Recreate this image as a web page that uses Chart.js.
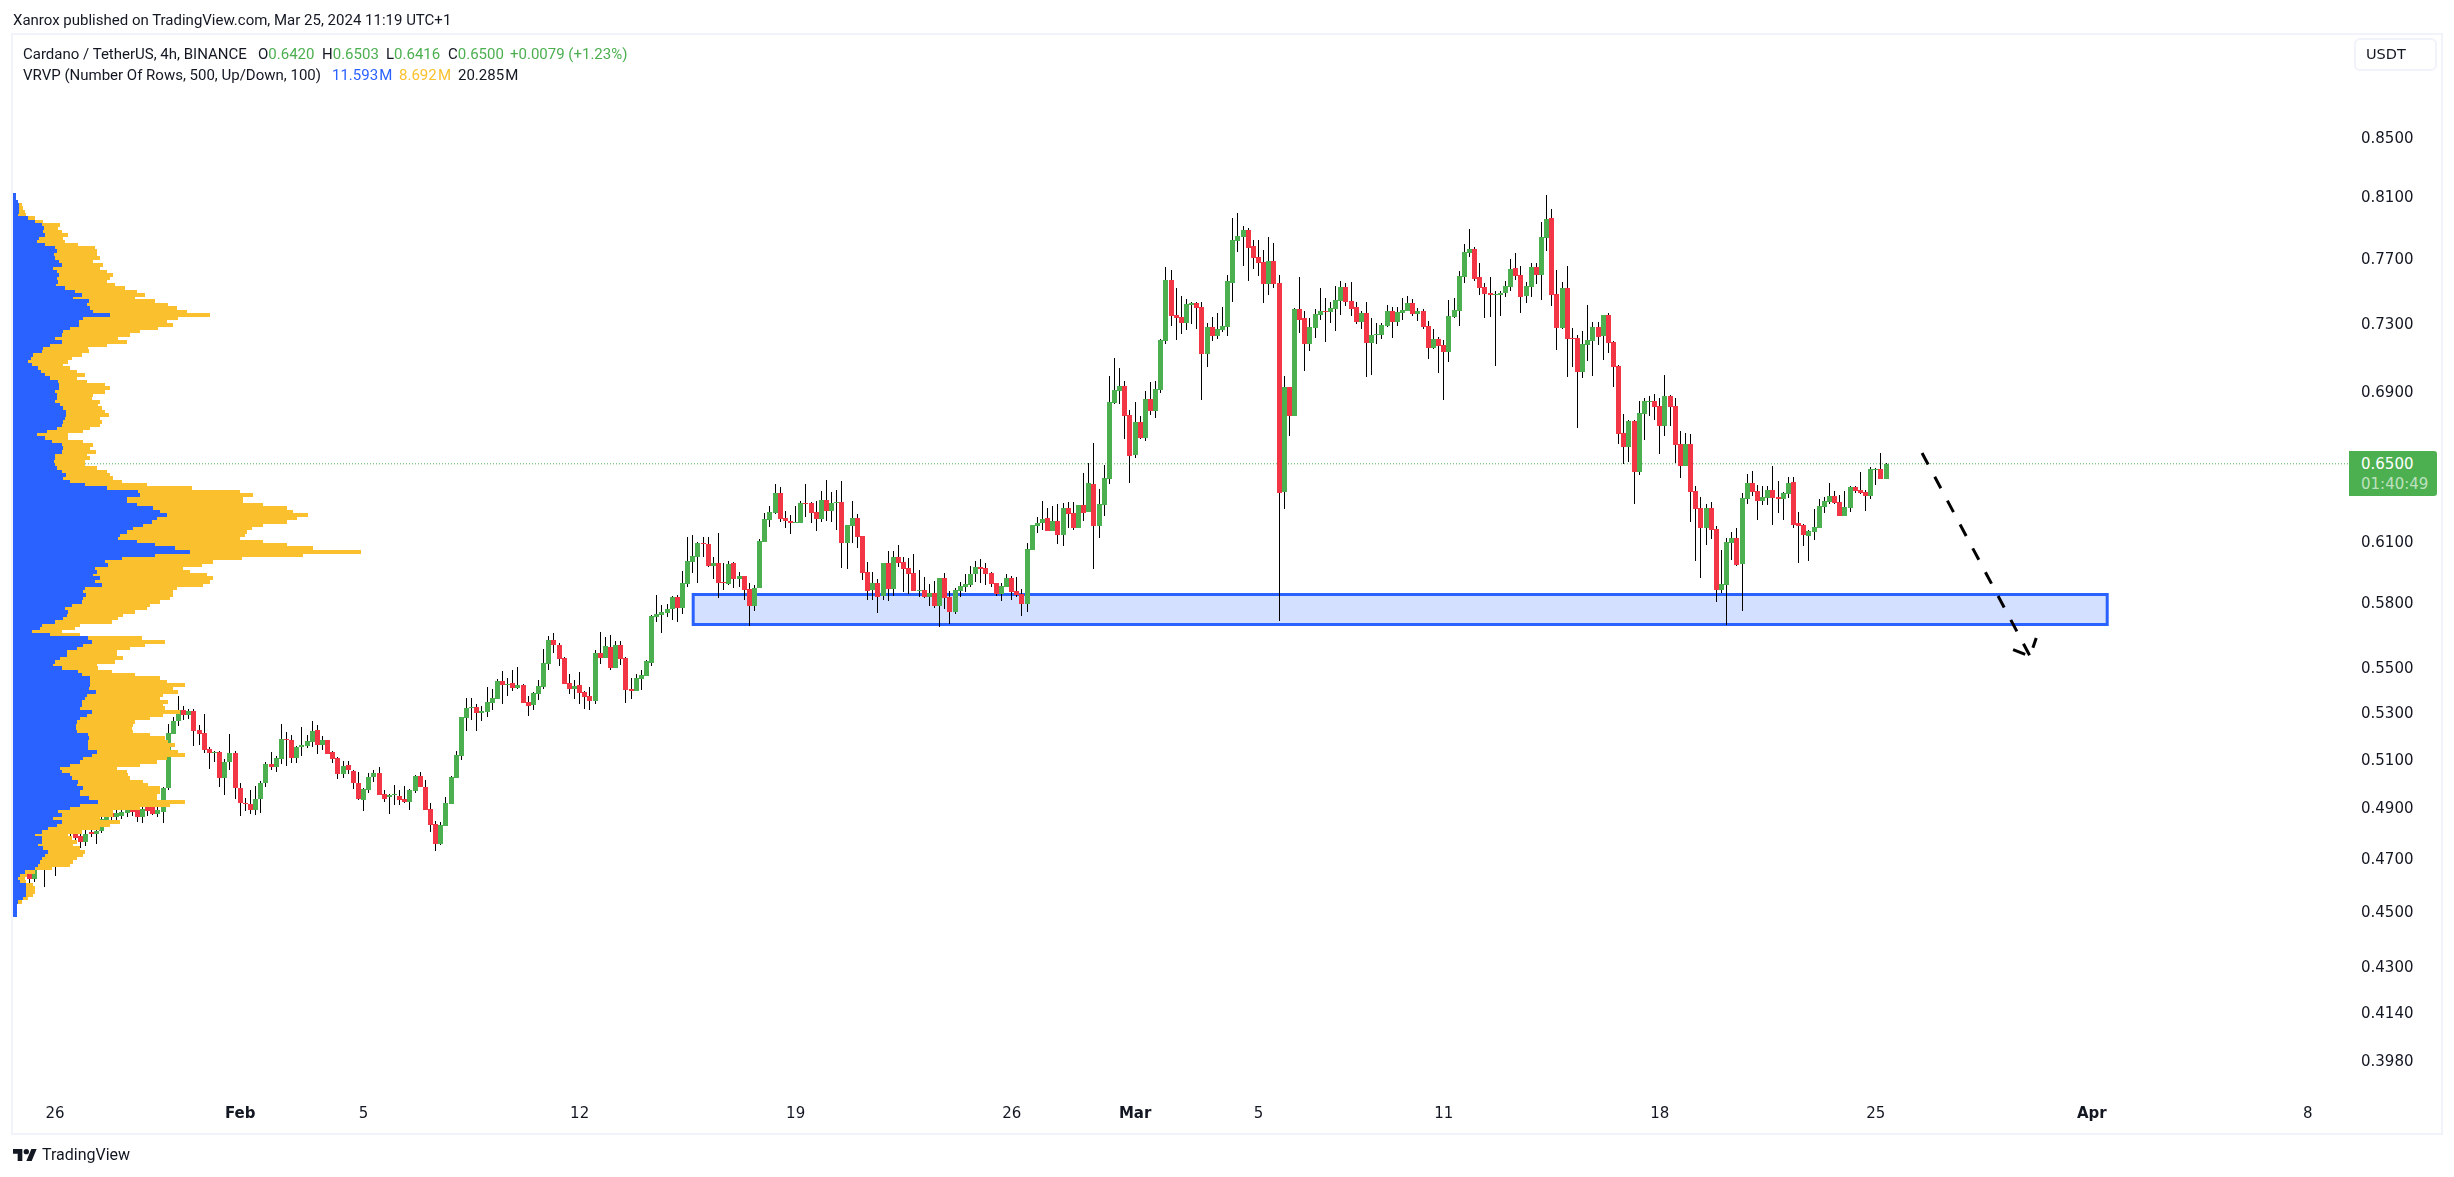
<!DOCTYPE html>
<html><head><meta charset="utf-8"><title>Cardano / TetherUS</title>
<script src="https://cdn.jsdelivr.net/npm/chart.js@4/dist/chart.umd.min.js"></script>
<style>
html,body{margin:0;padding:0;background:#fff;width:2454px;height:1177px;overflow:hidden}
#frame{position:absolute;left:11px;top:33px;width:2428px;height:1098px;border:2px solid #F0F3FA;box-sizing:content-box}
canvas{position:absolute;left:0;top:0}
.t{position:absolute;font-family:Roboto,sans-serif;font-size:15px;line-height:18px;white-space:nowrap;color:#131722}
.m{word-spacing:-2.5px}
.g{color:#4CAF50}.b{color:#2962FF}.o{color:#FBC02D}
#usdt{position:absolute;left:2354px;top:38px;width:79px;height:29px;border:2px solid #F0F3FA;border-radius:6px;font:14.5px "DejaVu Sans",sans-serif;line-height:29px;text-indent:10px;color:#131722}
#tag{position:absolute;left:2349px;top:451px;width:88px;height:45px;background:#4CAF50;border-radius:0 3px 3px 0;font:15px "DejaVu Sans",sans-serif;color:#fff}
#tag div{position:absolute;left:12px}
</style></head><body>
<div id="frame"></div>
<canvas id="c" width="2454" height="1177"></canvas>
<div class="t" style="left:13px;top:11px">Xanrox published on TradingView.com, Mar 25, 2024 11:19 UTC+1</div>
<div class="t" style="left:23px;top:45px">Cardano / TetherUS, 4h, BINANCE</div>
<div class="t" style="left:258px;top:45px">O<span class="g">0.6420</span></div>
<div class="t" style="left:322px;top:45px">H<span class="g">0.6503</span></div>
<div class="t" style="left:386px;top:45px">L<span class="g">0.6416</span></div>
<div class="t" style="left:448px;top:45px">C<span class="g">0.6500</span></div>
<div class="t g" style="left:510px;top:45px">+0.0079 (+1.23%)</div>
<div class="t" style="left:23px;top:66px">VRVP (Number Of Rows, 500, Up/Down, 100)</div>
<div class="t b m" style="left:332px;top:66px">11.593 M</div>
<div class="t o m" style="left:399px;top:66px">8.692 M</div>
<div class="t m" style="left:458px;top:66px">20.285 M</div>
<div id="usdt">USDT</div>
<div id="tag"><div style="top:4px">0.6500</div><div style="top:24px;color:rgba(255,255,255,.65)">01:40:49</div></div>
<svg style="position:absolute;left:13px;top:1148px" width="24" height="14" viewBox="0 4 36 18"><path d="M14 22H7V11H0V4h14v18zM28 22h-8l7.5-18h8L28 22z" fill="#131722"/><circle cx="20" cy="8" r="4" fill="#131722"/></svg>
<div class="t" style="left:42px;top:1146px;font-size:16px;color:#131722">TradingView</div>
<script>
// Candles: 4h bars, oldest first
const firstBarDay = -4/3;            // days from Jan 26 00:00 (Jan 24 16:00)
const barsPerDay = 6;
const opens = [
.4618,.4543,.4626,.4675,.4618,.4702,.4740,.4702,.4740,.4779,.4752,.4795,.4819,.4787,.4763,.4803,.4795,.4807,.4851,.4878,.4863,.4867,.4878,.4898,.4894,.4863,.4906,.4906,.4874,
.4880,.4979,.5206,.5260,.5308,.5288,.5303,.5222,.5208,.5141,.5126,.5129,.5021,.5087,.5125,.4979,.4918,.4915,.4888,.4933,.4998,.5079,.5066,.5101,.5183,.5179,.5104,.5148,.5155,.5172,.5222,.5160,.5179,.5129,.5104,.5037,.5075,.5050,.4999,.4931,.4972,.5022,.5041,.4956,.4941,.4949,.4948,.4935,.4923,.4968,.5029,.4984,.4895,.4835,.4755,.4824,.4915,.5021,.5112,.5273,.5316,.5320,.5295,.5299,.5338,.5356,
.5437,.5420,.5429,.5406,.5420,.5344,.5331,.5379,.5411,.5514,.5624,.5601,.5541,.5429,.5402,.5420,.5388,.5371,.5349,.5564,.5541,.5592,.5496,.5601,.5541,.5402,.5393,.5446,.5460,.5519,.5731,.5740,.5750,.5769,.5826,
.5773,.5888,.5996,.6021,.6090,.6085,.5976,.5991,.5898,.5888,.5991,.5913,.5927,.5864,.5782,.5869,.6095,.6206,.6242,.6346,.6217,.6201,.6191,.6191,.6293,.6293,.6247,.6211,.6309,.6252,.6293,.6298,.6090,.6176,.6217,.6125,.5947,.5860,.5893,.5831,.5991,.5864,.6021,.5996,.5966,.5942,.5855,.5860,.5826,.5845,.5782,.5917,.5826,.5754,.5855,.5874,.5884,.5937,.5971,.5966,.5942,.5893,.5840,.5874,.5917,.5855,.5840,.5792,.6055,.6176,.6191,.6217,.6151,.6201,.6130,.6267,.6242,.6166,.6283,.6247,.6393,.6176,.6283,
.6421,.6832,.6900,.6929,.6766,.6547,.6727,.6640,.6856,.6789,.6906,.7192,.7561,.7347,.7334,.7298,.7407,.7419,.7395,.7112,.7274,.7221,.7257,.7274,.7542,.7808,.7834,.7879,.7776,.7705,.7674,.7536,.7680,.7542,.6351,.6923,.6761,.7384,.7328,.7174,.7268,.7347,.7371,.7365,.7383,.7431,.7517,.7431,.7395,.7304,.7359,.7180,.7227,.7227,.7280,.7371,.7304,.7359,.7371,.7419,.7353,.7371,.7280,.7148,.7203,.7168,.7127,.7334,.7371,.7580,.7730,.7756,.7580,.7517,.7480,.7468,.7468,.7480,.7517,.7636,.7592,.7462,.7517,.7642,.7592,.7827,
.7957,.7474,.7268,.7511,.7209,.7209,.7010,.7168,.7192,.7274,.7221,.7347,.7186,.7045,.6667,.6591,.6733,.6457,.6772,.6839,.6845,.6817,.6705,.6872,.6817,.6607,.6488,.6607,.6356,.6269,.6166,.6269,.6161,.5859,.5883,.6091,.6116,.5986,.6315,.6398,.6356,.6305,.6320,.6361,.6325,.6315,.6340,.6403,.6191,.6182,.6126,.6146,.6166,.6274,.6299,.6330,.6299,.6227,.6269,.6377,.6361,.6351,.6330,.6467,.6472,.6419];
const highs = [
.4656,.4664,.4713,.4694,.4732,.4771,.4791,.4791,.4811,.4811,.4827,.4843,.4835,.4811,.4819,.4827,.4823,.4871,.4882,.4898,.4906,.4906,.4923,.4919,.4915,.4915,.4923,.4923,.4906,
.4982,.5249,.5276,.5371,.5325,.5315,.5315,.5243,.5293,.5151,.5133,.5133,.5100,.5205,.5133,.4999,.4938,.4972,.4988,.5009,.5087,.5129,.5112,.5248,.5212,.5200,.5154,.5237,.5200,.5260,.5243,.5196,.5181,.5131,.5106,.5092,.5092,.5054,.5045,.4980,.5041,.5054,.5066,.4972,.4956,.4992,.4972,.4988,.4976,.5033,.5045,.5013,.4919,.4845,.4840,.4943,.5029,.5133,.5280,.5360,.5360,.5333,.5325,.5410,.5401,.5445,
.5483,.5451,.5487,.5500,.5424,.5371,.5386,.5442,.5581,.5642,.5656,.5610,.5546,.5469,.5442,.5478,.5393,.5411,.5578,.5661,.5638,.5647,.5619,.5619,.5547,.5451,.5469,.5487,.5532,.5738,.5835,.5788,.5793,.5831,.5836,
.5952,.6118,.6130,.6095,.6120,.6120,.6021,.6140,.5991,.6001,.5996,.5947,.5929,.5893,.5884,.6110,.6242,.6277,.6393,.6377,.6252,.6232,.6277,.6303,.6393,.6298,.6303,.6356,.6414,.6351,.6361,.6409,.6183,.6303,.6237,.6127,.5996,.5947,.5913,.5993,.6051,.6051,.6080,.6021,.6016,.6036,.5956,.5922,.5888,.5903,.5919,.5942,.5855,.5869,.5898,.5937,.5976,.6001,.6011,.5991,.5947,.5895,.5893,.5937,.5927,.5922,.5864,.6090,.6183,.6222,.6303,.6267,.6277,.6288,.6293,.6298,.6298,.6285,.6451,.6504,.6612,.6367,.6494,
.6987,.7091,.7033,.6958,.6794,.6839,.6761,.6900,.6953,.6958,.7204,.7642,.7623,.7511,.7462,.7443,.7425,.7425,.7425,.7300,.7336,.7359,.7395,.7592,.7957,.7990,.7905,.7892,.7815,.7815,.7750,.7834,.7795,.7592,.6987,.6925,.7390,.7580,.7371,.7328,.7383,.7511,.7450,.7425,.7523,.7554,.7542,.7548,.7425,.7371,.7425,.7328,.7298,.7298,.7407,.7395,.7395,.7450,.7462,.7443,.7389,.7383,.7312,.7263,.7215,.7198,.7437,.7450,.7617,.7789,.7885,.7769,.7667,.7542,.7580,.7492,.7492,.7554,.7692,.7730,.7648,.7548,.7667,.7667,.7931,.8109,
.8017,.7623,.7548,.7648,.7268,.7227,.7251,.7407,.7304,.7304,.7349,.7359,.7188,.7051,.6772,.6739,.6739,.6845,.6861,.6872,.6884,.6861,.6993,.6878,.6861,.6678,.6667,.6662,.6382,.6325,.6289,.6299,.6177,.6056,.6116,.6146,.6166,.6346,.6446,.6462,.6387,.6382,.6382,.6488,.6409,.6351,.6430,.6430,.6248,.6184,.6156,.6264,.6315,.6325,.6398,.6356,.6335,.6356,.6382,.6382,.6457,.6361,.6483,.6478,.6558,.6505];
const lows = [
.4487,.4524,.4599,.4603,.4607,.4656,.4588,.4664,.4633,.4713,.4732,.4771,.4763,.4740,.4748,.4783,.4755,.4799,.4839,.4851,.4851,.4855,.4863,.4867,.4843,.4839,.4867,.4871,.4863,
.4839,.4969,.5204,.5239,.5265,.5268,.5154,.5158,.5126,.5058,.5087,.4982,.4952,.5054,.4935,.4864,.4884,.4875,.4871,.4876,.4984,.5054,.5046,.5079,.5068,.5083,.5083,.5112,.5145,.5150,.5121,.5137,.5121,.5082,.5017,.5021,.5037,.4976,.4931,.4887,.4960,.5005,.4952,.4923,.4875,.4911,.4911,.4919,.4891,.4960,.4984,.4891,.4803,.4729,.4749,.4824,.4915,.5021,.5096,.5218,.5265,.5218,.5260,.5278,.5308,.5356,
.5336,.5371,.5393,.5401,.5340,.5283,.5309,.5353,.5402,.5487,.5562,.5505,.5424,.5379,.5358,.5336,.5314,.5309,.5336,.5514,.5541,.5487,.5496,.5510,.5340,.5358,.5393,.5397,.5460,.5505,.5707,.5656,.5731,.5717,.5707,
.5745,.5874,.5942,.5893,.6021,.5971,.5913,.5821,.5860,.5884,.5869,.5874,.5812,.5689,.5759,.5869,.6095,.6171,.6237,.6196,.6166,.6135,.6189,.6189,.6222,.6191,.6151,.6196,.6201,.6196,.6156,.5966,.5961,.6090,.6065,.5908,.5812,.5812,.5749,.5812,.5807,.5831,.5971,.5850,.5840,.5855,.5826,.5821,.5782,.5773,.5684,.5768,.5698,.5745,.5826,.5850,.5874,.5898,.5893,.5884,.5874,.5831,.5807,.5874,.5812,.5826,.5735,.5754,.6055,.6140,.6156,.6151,.6151,.6085,.6075,.6166,.6156,.6166,.6201,.6247,.5961,.6115,.6227,
.6393,.6828,.6828,.6634,.6398,.6531,.6634,.6624,.6766,.6750,.6889,.7174,.7280,.7198,.7233,.7257,.7292,.7263,.6850,.7039,.7192,.7203,.7245,.7221,.7425,.7739,.7648,.7554,.7630,.7586,.7419,.7468,.7511,.5714,.6264,.6651,.6761,.7239,.7016,.7132,.7209,.7318,.7186,.7298,.7251,.7347,.7401,.7340,.7292,.7263,.6981,.6993,.7174,.7203,.7274,.7209,.7280,.7318,.7369,.7340,.7310,.7263,.7085,.7144,.7004,.6850,.7068,.7330,.7280,.7542,.7705,.7554,.7468,.7328,.7334,.7045,.7340,.7456,.7492,.7561,.7359,.7419,.7456,.7536,.7437,.7743,
.7401,.7138,.7263,.6981,.7039,.6695,.6975,.7074,.6987,.7168,.7080,.7118,.6923,.6607,.6499,.6510,.6289,.6441,.6629,.6761,.6739,.6551,.6651,.6705,.6504,.6425,.6486,.6197,.6001,.5918,.6081,.6111,.5802,.5845,.5693,.6006,.5976,.5759,.6289,.6330,.6207,.6284,.6284,.6182,.6243,.6207,.6320,.6166,.5991,.6076,.6001,.6106,.6166,.6243,.6289,.6289,.6225,.6225,.6248,.6346,.6340,.6253,.6315,.6387,.6419,.6419];
const closes = [
.4524,.4637,.4675,.4618,.4713,.4740,.4694,.4752,.4779,.4752,.4803,.4819,.4779,.4763,.4795,.4795,.4807,.4855,.4863,.4863,.4878,.4882,.4898,.4882,.4863,.4894,.4886,.4874,.4890,
.4979,.5208,.5260,.5308,.5286,.5305,.5219,.5205,.5135,.5126,.5129,.5021,.5087,.5125,.4977,.4916,.4912,.4888,.4935,.4999,.5079,.5066,.5104,.5183,.5180,.5104,.5150,.5158,.5175,.5218,.5160,.5179,.5121,.5101,.5037,.5071,.5051,.4999,.4935,.4976,.5025,.5041,.4952,.4935,.4949,.4952,.4931,.4923,.4972,.5029,.4984,.4891,.4831,.4755,.4831,.4919,.5025,.5116,.5278,.5316,.5320,.5295,.5303,.5342,.5360,.5437,
.5420,.5424,.5406,.5420,.5340,.5327,.5384,.5415,.5519,.5624,.5599,.5537,.5424,.5402,.5415,.5384,.5366,.5349,.5564,.5541,.5596,.5496,.5601,.5537,.5397,.5393,.5451,.5464,.5528,.5736,.5745,.5755,.5769,.5826,.5774,
.5892,.6001,.6026,.6090,.6085,.5976,.5991,.5893,.5893,.5986,.5913,.5927,.5860,.5782,.5869,.6100,.6211,.6247,.6346,.6211,.6201,.6191,.6196,.6293,.6288,.6242,.6211,.6309,.6252,.6293,.6298,.6090,.6181,.6217,.6120,.5942,.5855,.5893,.5826,.5991,.5864,.6021,.5991,.5961,.5937,.5855,.5860,.5826,.5845,.5782,.5917,.5821,.5754,.5860,.5879,.5888,.5937,.5971,.5961,.5937,.5888,.5840,.5879,.5917,.5850,.5835,.5792,.6060,.6181,.6191,.6211,.6151,.6201,.6130,.6267,.6237,.6166,.6283,.6242,.6398,.6176,.6288,.6425,
.6839,.6906,.6929,.6761,.6542,.6727,.6640,.6856,.6789,.6912,.7198,.7561,.7342,.7328,.7298,.7413,.7419,.7389,.7112,.7274,.7221,.7263,.7280,.7554,.7815,.7840,.7879,.7763,.7699,.7667,.7536,.7680,.7536,.6346,.6923,.6761,.7384,.7318,.7174,.7274,.7353,.7371,.7365,.7389,.7438,.7517,.7425,.7383,.7304,.7359,.7180,.7227,.7233,.7286,.7371,.7304,.7365,.7377,.7419,.7353,.7371,.7274,.7148,.7203,.7162,.7127,.7342,.7377,.7586,.7737,.7756,.7567,.7511,.7474,.7468,.7474,.7480,.7523,.7630,.7586,.7456,.7523,.7642,.7592,.7834,.7951,
.7468,.7268,.7511,.7203,.7203,.7010,.7174,.7198,.7274,.7215,.7347,.7180,.7039,.6662,.6591,.6733,.6457,.6778,.6845,.6845,.6811,.6705,.6872,.6811,.6602,.6488,.6607,.6351,.6264,.6166,.6269,.6156,.5859,.5888,.6096,.6116,.5981,.6320,.6398,.6351,.6305,.6325,.6361,.6320,.6315,.6346,.6398,.6182,.6177,.6131,.6151,.6172,.6279,.6305,.6330,.6294,.6227,.6274,.6377,.6356,.6346,.6330,.6472,.6472,.6419,.6500];

// Visible-range volume profile rows (price level, up volume, down volume; units of 1e2)
const vpPrices = [
.8108,.8086,.8064,.8042,.8020,.7998,.7976,.7954,.7933,.7911,.7889,.7868,.7846,.7825,.7803,.7782,.7761,.7740,.7718,.7697,.7676,.7655,.7634,.7613,.7593,.7572,.7551,.7530,.7510,.7489,.7469,.7448,.7428,.7408,.7387,.7367,.7347,.7327,.7307,.7287,.7267,.7247,.7227,.7207,.7187,.7168,.7148,.7129,.7109,.7090,.7070,.7051,.7032,.7012,.6993,.6974,.6955,.6936,.6917,.6898,.6879,.6860,.6841,.6823,.6804,.6785,.6767,.6748,.6730,.6711,.6693,.6675,.6656,.6638,.6620,.6602,.6584,.6566,.6548,.6530,.6512,.6494,.6476,.6458,.6441,.6423,.6405,.6388,.6370,.6353,.6336,.6318,.6301,.6284,.6267,.6249,.6232,.6215,.6198,.6181,.6164,.6147,.6131,.6114,.6097,.6080,.6064,.6047,.6031,.6014,.5998,.5981,.5965,.5948,.5932,.5916,
.5900,.5884,.5868,.5852,.5836,.5820,.5804,.5788,.5772,.5756,.5740,.5725,.5709,.5693,.5678,.5662,.5647,.5631,.5616,.5600,.5585,.5570,.5554,.5539,.5524,.5509,.5494,.5479,.5464,.5449,.5434,.5419,.5404,.5389,.5374,.5360,.5345,.5330,.5316,.5301,.5287,.5272,.5258,.5243,.5229,.5215,.5200,.5186,.5172,.5158,.5144,.5130,.5116,.5102,.5088,.5074,.5060,.5046,.5032,.5018,.5005,.4991,.4977,.4964,.4950,.4937,.4923,.4910,.4896,.4883,.4870,.4856,.4843,.4830,.4816,.4803,.4790,.4777,.4764,.4751,.4738,.4725,.4712,.4699,.4686,.4673,.4661,.4648,.4635,.4622,.4610,.4597,.4585,.4572,.4560,.4547,.4535,.4522,.4510,.4498,.4485];
const vpUp = [
9,9,16,18,18,18,16,46,66,86,94,89,96,78,71,96,126,131,124,126,139,146,121,131,139,133,136,129,156,186,206,181,229,223,231,241,291,211,198,199,171,151,146,126,146,111,91,86,61,53,44,56,76,83,96,111,136,139,139,126,133,131,126,141,151,159,159,156,151,146,131,101,71,96,116,146,151,146,126,126,123,126,133,146,159,151,171,216,281,376,381,343,343,371,421,441,461,431,416,391,361,341,321,316,371,426,486,531,426,326,276,286,246,251,241,261,
246,266,216,211,219,211,206,176,156,166,161,151,126,86,81,58,111,226,236,211,191,161,161,141,126,121,146,196,206,231,231,231,229,249,221,216,206,206,201,236,223,201,193,189,189,191,226,229,226,226,226,251,236,211,201,171,141,146,171,176,196,191,211,201,201,229,256,201,171,136,146,121,146,131,106,86,66,86,86,76,91,106,96,86,81,76,66,36,21,16,21,39,39,39,39,29,16,11,11,11,11];
const vpDown = [
0,0,0,9,13,18,23,20,25,55,42,57,70,73,85,98,120,120,127,135,102,125,140,150,162,158,145,177,180,185,190,185,197,243,260,280,300,285,263,282,265,230,205,190,195,170,135,143,145,123,122,95,95,108,120,80,85,137,152,150,108,105,135,115,115,117,130,105,115,115,100,110,95,70,95,95,80,103,95,105,93,90,118,135,132,150,155,185,255,305,338,348,348,380,400,398,425,420,405,360,355,360,375,365,380,395,415,513,445,360,325,280,265,280,340,340,
345,305,275,270,262,260,235,235,245,200,170,165,170,115,105,88,90,160,220,185,160,150,150,190,180,130,110,100,160,210,230,285,252,247,230,225,260,245,255,265,228,210,173,172,167,170,185,227,240,260,245,245,280,250,230,210,170,195,175,175,195,215,230,240,230,202,260,270,210,165,155,140,175,160,155,120,100,90,105,105,110,110,115,105,98,95,50,30,20,20,18,22,27,27,22,17,10,2,0,0,0];

// Axis ticks
const xTickDays   = [0,6,10,17,24,31,35,39,45,52,59,66,73];
const xTickLabels = ['26','Feb','5','12','19','26','Mar','5','11','18','25','Apr','8'];
const monthLabels = ['Feb','Mar','Apr'];
const yTickValues = [0.85,0.81,0.77,0.73,0.69,0.65,0.61,0.58,0.55,0.53,0.51,0.49,0.47,0.45,0.43,0.414,0.398];

// Drawings
const lastPrice  = 0.6500;
const zoneTop    = 0.5837;
const zoneBottom = 0.5695;
const zoneStart  = 20.68;
const zoneEnd    = 66.50;
const arrowDays   = [60.50,64.00];
const arrowPrices = [0.6558,0.5549];
const headDays    = [63.45,64.00,64.20];
const headPrices  = [0.5579,0.5549,0.5632];

const GREEN='#4CAF50', RED='#F23645', BLUE='#2962FF', ORANGE='#FBC02D';
const dayOf = i => firstBarDay + i/barsPerDay;
const xMin=-1.361, xMax=74.335, yMin=0.3868, yMax=0.9248, profileMax=7008;
const axisFont="'DejaVu Sans',sans-serif";
const line = (o)=>Object.assign({type:'line',pointRadius:0,tension:0,fill:false,borderJoinStyle:'miter',borderCapStyle:'butt'},o);
const bar  = (o)=>Object.assign({type:'bar',grouped:false,inflateAmount:0,borderWidth:0,borderSkipped:false},o);

// Snap the library-computed bar geometry to whole device pixels so marks stay crisp
const pixelSnap = {id:'pixelSnap',beforeDatasetsDraw(chart){
  chart.data.datasets.forEach((ds,i)=>{
    if(ds.type!=='bar') return;
    chart.getDatasetMeta(i).data.forEach(el=>{
      if(ds.indexAxis==='y'){el.y=Math.round(el.y);el.x=Math.round(el.x);el.base=Math.round(el.base);}
      else{el.x=Math.round(el.x-0.5)+0.5;el.y=Math.round(el.y);el.base=Math.round(el.base);if(el.y===el.base)el.base=el.y+1;}
    });
  });
}};

new Chart(document.getElementById('c'),{
  type:'bar',
  plugins:[pixelSnap],
  data:{datasets:[
    line({label:'Zone fill',order:9,data:[{x:zoneStart,y:zoneTop},{x:zoneEnd,y:zoneTop}],borderWidth:0,backgroundColor:'rgba(41,98,255,0.2)',fill:{target:{value:zoneBottom}}}),
    line({label:'Zone',order:8,data:[{x:zoneStart,y:zoneTop},{x:zoneEnd,y:zoneTop},{x:zoneEnd,y:zoneBottom},{x:zoneStart,y:zoneBottom},{x:zoneStart,y:zoneTop}],borderColor:BLUE,borderWidth:3,borderCapStyle:'square'}),
    line({label:'Last price',order:7,data:[{x:xMin,y:lastPrice},{x:xMax,y:lastPrice}],borderColor:GREEN,borderWidth:1,borderDash:[1,2]}),
    bar({label:'Wicks',order:6,barThickness:1,backgroundColor:'#000',data:highs.map((h,i)=>({x:dayOf(i),y:[lows[i],h]}))}),
    bar({label:'Bodies',order:5,barThickness:5,minBarLength:1,backgroundColor:closes.map((c,i)=>c>=opens[i]?GREEN:RED),data:closes.map((c,i)=>({x:dayOf(i),y:[opens[i],c]}))}),
    line({label:'Projection',order:4,data:arrowDays.map((d,i)=>({x:d,y:arrowPrices[i]})),borderColor:'#000',borderWidth:3,borderDash:[13,14]}),
    line({label:'Projection head',order:4,data:headDays.map((d,i)=>({x:d,y:headPrices[i]})),borderColor:'#000',borderWidth:3,borderDash:[13,14]}),
    bar({label:'VRVP down',order:3,indexAxis:'y',xAxisID:'xv',barThickness:4,backgroundColor:ORANGE,data:vpPrices.map((p,i)=>({y:p,x:[vpUp[i],vpUp[i]+vpDown[i]]}))}),
    bar({label:'VRVP up',order:2,indexAxis:'y',xAxisID:'xv',barThickness:4,backgroundColor:BLUE,data:vpPrices.map((p,i)=>({y:p,x:[0,vpUp[i]]}))})
  ]},
  options:{
    responsive:false,animation:false,events:[],devicePixelRatio:1,
    layout:{padding:{left:13,top:35,right:0,bottom:0}},
    plugins:{legend:{display:false},tooltip:{enabled:false},title:{display:false}},
    scales:{
      x:{type:'linear',position:'bottom',min:xMin,max:xMax,bounds:'data',offset:false,
        grid:{display:false,offset:false,drawTicks:false},border:{display:false},
        afterBuildTicks:s=>{s.ticks=xTickDays.map(v=>({value:v}));},
        afterFit:s=>{s.height=82;},
        ticks:{autoSkip:false,maxRotation:0,padding:10,color:'#131722',
          callback:v=>xTickLabels[xTickDays.indexOf(v)]||'',
          font:ctx=>({family:axisFont,size:15,weight:ctx.tick&&monthLabels.includes(ctx.tick.label)?'bold':'normal'})}},
      xv:{type:'linear',display:false,position:'top',min:0,max:profileMax,bounds:'data',offset:false,grid:{display:false}},
      y:{type:'logarithmic',position:'right',min:yMin,max:yMax,bounds:'data',offset:false,
        grid:{display:false,offset:false,drawTicks:false},border:{display:false},
        afterBuildTicks:s=>{s.ticks=yTickValues.map(v=>({value:v}));},
        afterFit:s=>{s.width=105;},
        ticks:{autoSkip:false,padding:12,labelOffset:2,color:'#131722',font:{family:axisFont,size:15},
          callback:v=>Number(v).toFixed(4)}}
    }
  }
});
</script>
</body></html>
